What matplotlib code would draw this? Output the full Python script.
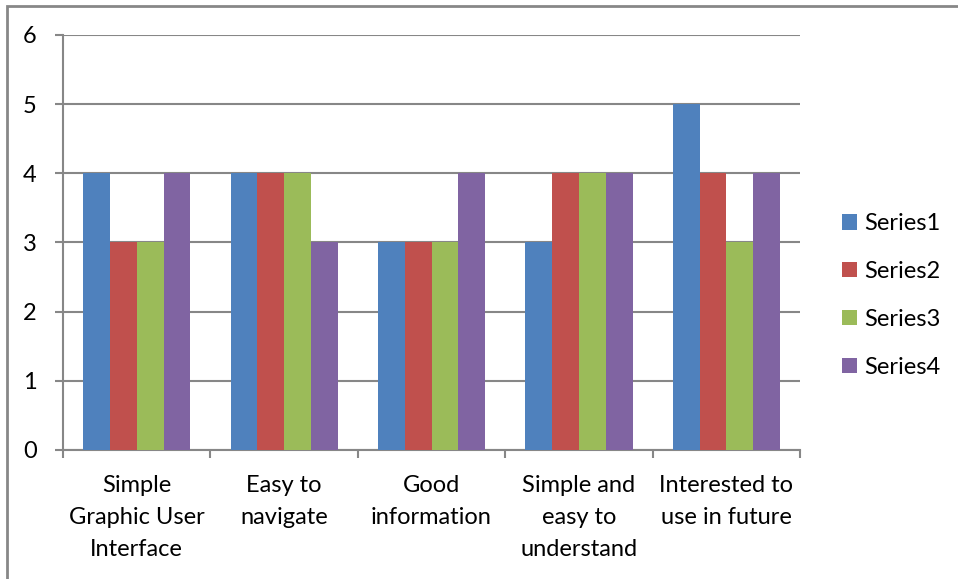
import numpy as np
import matplotlib.pyplot as plt
from matplotlib.patches import Rectangle

categories = ["Simple\nGraphic User\nInterface", "Easy to\nnavigate", "Good\ninformation",
              "Simple and\neasy to\nunderstand", "Interested to\nuse in future"]
series_names = ["Series1", "Series2", "Series3", "Series4"]
series1 = [4, 4, 3, 3, 5]
series2 = [3, 4, 3, 4, 4]
series3 = [3, 4, 3, 4, 3]
series4 = [4, 3, 4, 4, 4]
colors = ["#4F81BD", "#C0504D", "#9BBB59", "#8064A2"]

plt.rcParams["font.family"] = ["Lato", "DejaVu Sans"]
GRID = "#878787"
FS = 17

fig = plt.figure(figsize=(9.58, 5.79), dpi=100)
ax = fig.add_axes([0.0658, 0.2228, 0.7693, 0.7168])

x = np.arange(len(categories))
w = 1 / 5.5
for i, (vals, name, c) in enumerate(zip([series1, series2, series3, series4], series_names, colors)):
    ax.bar(x + (i - 1.5) * w, vals, width=w, color=c, label=name, zorder=3)

ax.set_xlim(-0.5, len(categories) - 0.5)
ax.set_ylim(0, 6)
ax.set_yticks(range(7))
ax.yaxis.grid(True, color=GRID, linewidth=1.5, zorder=0)
ax.set_axisbelow(True)

ax.set_xticks(np.arange(len(categories) + 1) - 0.5)
ax.set_xticklabels([])
ax.set_xticks(x, minor=True)
ax.set_xticklabels(categories, minor=True, linespacing=1.66)
ax.tick_params(axis="x", which="minor", length=0, pad=18, labelsize=FS)
ax.tick_params(axis="x", which="major", length=6, width=1.5, color=GRID, direction="out")
ax.tick_params(axis="y", length=6, width=1.5, color=GRID, pad=13, labelsize=FS)

for s in ["top", "right"]:
    ax.spines[s].set_visible(False)
for s in ["left", "bottom"]:
    ax.spines[s].set_color(GRID)
    ax.spines[s].set_linewidth(1.5)

fig.legend(loc="upper left", bbox_to_anchor=(842 / 958, 1 - 213 / 579), frameon=False,
           fontsize=FS, borderpad=0, borderaxespad=0,
           handlelength=0.64, handleheight=0.64, handletextpad=0.3, labelspacing=1.14)

# outer chart border
fig.patches.append(Rectangle((7 / 958, -0.1), 1.1, 1.1 - 6 / 579,
                             transform=fig.transFigure, fill=False,
                             edgecolor=GRID, linewidth=2))

fig.savefig("out.png", dpi=100)
